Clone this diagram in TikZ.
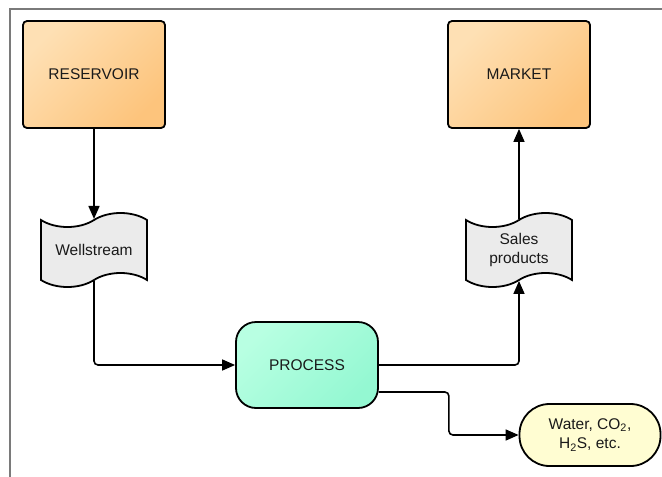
\documentclass[tikz,border=0pt]{standalone}
\usepackage{fontspec}
\setmainfont{Liberation Sans}
\usetikzlibrary{arrows.meta,shapes.symbols,positioning}

\definecolor{resLight}{HTML}{FEE0B4}
\definecolor{resDark}{HTML}{FDC47C}
\definecolor{procLight}{HTML}{B8FFE2}
\definecolor{procDark}{HTML}{94F8D2}
\definecolor{wasteFill}{HTML}{FFFDD2}
\definecolor{docFill}{HTML}{EBEBEB}
\definecolor{frameGray}{HTML}{7A7A7A}
\definecolor{inkBlack}{HTML}{1A1A1A}

\tikzset{
    every node/.style={font=\fontsize{15.5}{19.5}\selectfont, text=inkBlack},
    box/.style={draw, line width=1.8pt, rectangle, rounded corners=4pt,
        minimum width=142pt, minimum height=107pt,
        top color=resLight, bottom color=resDark, shading angle=45},
    doc/.style={draw, line width=1.8pt, tape, tape bend height=14pt,
        minimum width=106pt, minimum height=74pt, fill=docFill, align=center},
    procbox/.style={draw, line width=1.8pt, rectangle, rounded corners=20pt,
        minimum width=142pt, minimum height=86pt,
        top color=procLight, bottom color=procDark, shading angle=45},
    waste/.style={draw, line width=1.8pt, rectangle, rounded corners=30pt,
        minimum width=141pt, minimum height=62pt, fill=wasteFill, align=center},
    flow/.style={line width=1.6pt, rounded corners=4pt,
        -{Triangle[length=13pt,width=11pt]}}
}

\begin{document}
\begin{tikzpicture}[x=1pt,y=1pt]
    \useasboundingbox (0,0) rectangle (662,-477);
    % frame
    \draw [frameGray, line width=1.6pt] (10,-477) -- (10,-9) -- (662,-9);
    \path
        (94,-74.5)      node[box]     (res)   {RESERVOIR}
     ++ (0,-175.5)      node[doc]     (well)  {Wellstream}
     ++ (213,-115)      node[procbox] (proc)  {PROCESS}
     ++ (212,115)       node[doc]     (sales) {Sales\\products}
     ++ (0,175.5)       node[box]     (mkt)   {MARKET}
     ++ (71,-360.5)     node[waste]   (water) {Water, CO\textsubscript{2},\\H\textsubscript{2}S, etc.}
     ;
     \draw [flow] (res) -- (well);
     \draw [flow] (well.south) |- (proc.west);
     \draw [flow] (proc.east) -| (sales.south);
     \draw [flow] (sales) -- (mkt);
     \draw [flow] ([yshift=-27pt]proc.east) -- ++(70,0) |- (water.west);
\end{tikzpicture}
\end{document}
